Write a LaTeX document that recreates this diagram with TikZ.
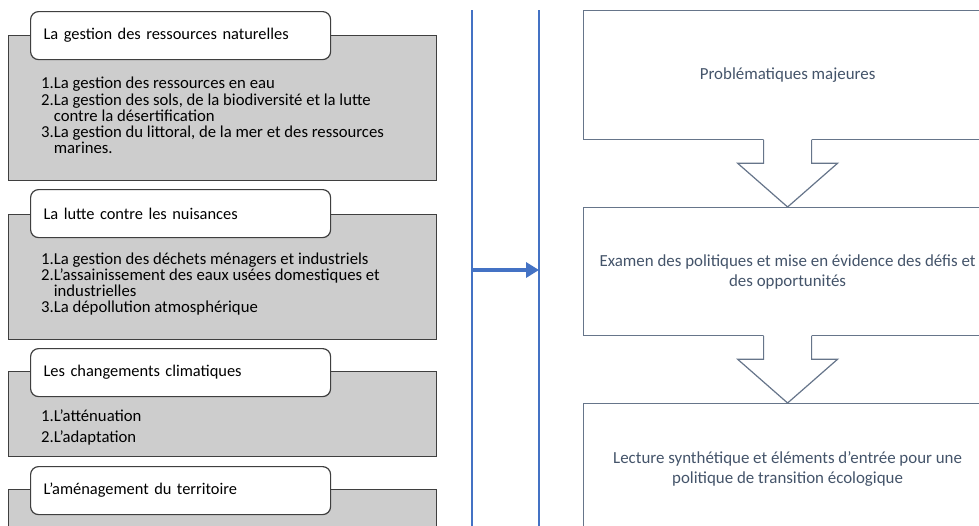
\documentclass[tikz,border=0pt]{standalone}
\usepackage{fontspec}
\setmainfont{Carlito}
\usetikzlibrary{calc,arrows.meta}
\definecolor{panelfill}{HTML}{CDCDCD}
\definecolor{paneledge}{HTML}{3F3F3F}
\definecolor{flowblue}{HTML}{4472C4}
\definecolor{slatetext}{HTML}{44546A}
\definecolor{slateedge}{HTML}{66758A}

% open block arrow from the bottom of one box to the top of the next
\newcommand\blockarrow[2]{%
  \fill[white] ($(#1.south)+(-24,-1.5)$) -- ($(#1.south)+(-24,23)$) -- ($(#1.south)+(-50,23)$)
    -- (#2.north) -- ($(#1.south)+(50,23)$) -- ($(#1.south)+(24,23)$) -- ($(#1.south)+(24,-1.5)$) -- cycle;
  \draw[stepedge] ($(#1.south)+(-24,0)$) -- ($(#1.south)+(-24,23)$) -- ($(#1.south)+(-50,23)$)
    -- (#2.north) -- ($(#1.south)+(50,23)$) -- ($(#1.south)+(24,23)$) -- ($(#1.south)+(24,0)$);
}

\begin{document}
\begin{tikzpicture}[x=1pt,y=-1pt,
  panel/.style={draw=paneledge, fill=panelfill, line width=1.3pt, anchor=north west,
    inner sep=0pt, minimum width=428pt},
  tab/.style={draw=paneledge, fill=white, line width=1.2pt, rounded corners=8pt,
    anchor=north west, inner xsep=13pt, inner ysep=0pt, text width=274pt,
    minimum height=48pt, align=left, font=\fontsize{16.4}{19}\selectfont},
  items/.style={anchor=north west, inner sep=0pt, align=left, text=black},
  stepbox/.style={draw=slateedge, line width=1.2pt, fill=white, anchor=north west,
    minimum width=408pt, text=slatetext, align=center, inner sep=0pt,
    font=\fontsize{16.9}{20}\selectfont},
  stepedge/.style={draw=slateedge, line width=1.2pt, line join=miter},
  rail/.style={draw=flowblue, line width=2pt}
]
\useasboundingbox (0,0) rectangle (979,525);
\fill[white] (0,0) rectangle (979,525);

% ---- left column: thematic panels ----
\node[panel, minimum height=145pt] (p1) at (8,35) {};
\node[tab] (t1) at (30,11) {La gestion des ressources naturelles};
\node[items, font=\fontsize{16.7}{16.3}\selectfont] (i1) at (41,77)
  {1.La gestion des ressources en eau\\
   2.La gestion des sols, de la biodiversité et la lutte\\
   \phantom{2.}contre la désertification\\
   3.La gestion du littoral, de la mer et des ressources\\
   \phantom{3.}marines.};

\node[panel, minimum height=125pt] (p2) at (8,214) {};
\node[tab] (t2) at (30,189) {La lutte contre les nuisances};
\node[items, font=\fontsize{16.7}{16.1}\selectfont] (i2) at (41,252.5)
  {1.La gestion des déchets ménagers et industriels\\
   2.L’assainissement des eaux usées domestiques et\\
   \phantom{2.}industrielles\\
   3.La dépollution atmosphérique};

\node[panel, minimum height=85pt] (p3) at (8,371) {};
\node[tab] (t3) at (30,348) {Les changements climatiques};
\node[items, font=\fontsize{16.7}{21.5}\selectfont] (i3) at (41,409.5)
  {1.L’atténuation\\
   2.L’adaptation};

\node[panel, minimum height=50pt] (p4) at (8,489) {};
\node[tab] (t4) at (30,466) {L’aménagement du territoire};

% ---- middle: two rails and the transfer arrow ----
\coordinate (r1top) at (472,10);
\coordinate (r1bot) at (472,527);
\coordinate (r2top) at (539,10);
\coordinate (r2bot) at (539,527);
\draw[rail] (r1top) -- (r1bot);
\draw[rail] (r2top) -- (r2bot);
\coordinate (go) at (472,270);
\coordinate (arrive) at (539,270);
\draw[draw=flowblue, line width=4pt, -{Triangle[length=13pt,width=15pt]}] (go) -- (arrive);

% ---- right column: analysis steps ----
\node[stepbox, minimum height=129pt] (s1) at (583,10) {Problématiques majeures};
\node[stepbox, minimum height=128pt] (s2) at (583,207)
  {Examen des politiques et mise en évidence des défis et\\des opportunités};
\node[stepbox, minimum height=130pt] (s3) at (583,403)
  {Lecture synthétique et éléments d’entrée pour une\\politique de transition écologique};

\blockarrow{s1}{s2}
\blockarrow{s2}{s3}
\end{tikzpicture}
\end{document}
